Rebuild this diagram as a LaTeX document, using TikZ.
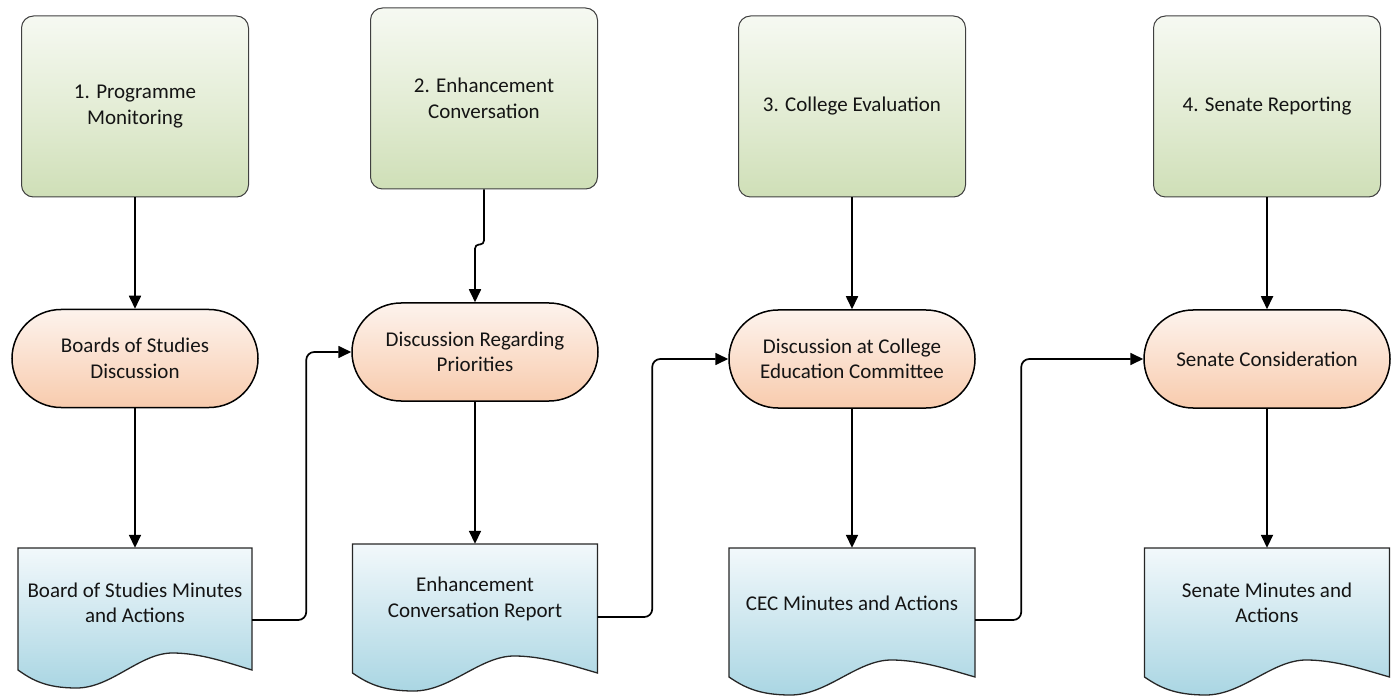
\documentclass[tikz,border=0pt]{standalone}
\usepackage{fontspec}
\setmainfont{Carlito}
\usetikzlibrary{arrows.meta,shapes.misc,calc}
\definecolor{gtop}{RGB}{246,249,242}
\definecolor{gmid}{RGB}{228,237,214}
\definecolor{gbot}{RGB}{207,223,183}
\definecolor{otop}{RGB}{253,243,237}
\definecolor{obot}{RGB}{248,203,173}
\definecolor{btop}{RGB}{242,248,251}
\definecolor{bbot}{RGB}{170,214,227}
\definecolor{txt}{RGB}{20,20,20}
\newcommand{\docbox}[6]{%
 \pgfmathsetmacro\dL{#2-#4/2}\pgfmathsetmacro\dW{#4}\pgfmathsetmacro\dB{#3+#5}%
 \path[docfill] (\dL,#3) -- ({\dL+\dW},#3) -- ({\dL+\dW},\dB)
   .. controls ({\dL+0.9*\dW},{\dB-7}) and ({\dL+0.78*\dW},{\dB-17}) .. ({\dL+0.66*\dW},{\dB-17})
   .. controls ({\dL+0.52*\dW},{\dB-17}) and ({\dL+0.40*\dW},{\dB+18}) .. ({\dL+0.25*\dW},{\dB+18})
   .. controls ({\dL+0.12*\dW},{\dB+18}) and ({\dL+0.06*\dW},{\dB+10}) .. (\dL,\dB) -- cycle;
 \node[doctext, minimum width=#4pt] (#1) at (#2,{#3+55}) {#6};
}
\begin{document}
\begin{tikzpicture}[x=1pt,y=-1pt,
  font=\fontsize{21}{25.5}\selectfont, text=txt,
  phase/.style={rectangle, rounded corners=12pt, draw=black!75, line width=1pt,
    top color=gtop, bottom color=gbot, middle color=gmid,
    minimum width=227pt, minimum height=181pt, align=center, inner sep=0pt},
  term/.style={rounded rectangle, draw=black, line width=1.5pt,
    top color=otop, bottom color=obot,
    minimum width=246pt, minimum height=98pt, align=center, inner sep=0pt},
  docfill/.style={draw=black!85, line width=1.3pt, top color=btop, bottom color=bbot},
  doctext/.style={rectangle, minimum height=110pt, align=center, inner sep=0pt},
  link/.style={draw=black, line width=1.7pt, rounded corners=8pt,
    -{Triangle[length=13pt,width=12pt]}}
]
\useasboundingbox (0,0) rectangle (1394,700);

% phases
\node[phase] (g1) at (135,106.5) {1. Programme\\Monitoring};
\node[phase] (g2) at (484,98.5) {2. Enhancement\\Conversation};
\node[phase] (g3) at (852,106.5) {3. College Evaluation};
\node[phase] (g4) at (1267,106.5) {4. Senate Reporting};

% discussions
\node[term] (t1) at (135,358.5) {Boards of Studies\\Discussion};
\node[term] (t2) at (475,352) {Discussion Regarding\\Priorities};
\node[term] (t3) at (852,359) {Discussion at College\\Education Committee};
\node[term] (t4) at (1267,359) {Senate Consideration};

% documents
\docbox{d1}{135}{548}{234}{122}{Board of Studies Minutes\\and Actions}
\docbox{d2}{475}{544}{245}{129}{Enhancement\\Conversation Report}
\docbox{d3}{852}{548}{246}{129}{CEC Minutes and Actions}
\docbox{d4}{1267}{548}{245}{129}{Senate Minutes and\\Actions}

% vertical links
\draw[link] (g1.south) -- (t1.north);
\draw[link, rounded corners=4pt] (g2.south) -- ++(0,55) -| (t2.north);
\draw[link] (g3.south) -- (t3.north);
\draw[link] (g4.south) -- (t4.north);
\draw[link] (t1.south) -- (d1.north);
\draw[link] (t2.south) -- (d2.north);
\draw[link] (t3.south) -- (d3.north);
\draw[link] (t4.south) -- (d4.north);

% cross links
\draw[link] ([yshift=-17pt]d1.east) -| ($(t2.west)+(-45,0)$) -- (t2.west);
\draw[link] ([yshift=-18pt]d2.east) -| ($(t3.west)+(-76,0)$) -- (t3.west);
\draw[link] ([yshift=-17pt]d3.east) -| ($(t4.west)+(-122,0)$) -- (t4.west);
\end{tikzpicture}
\end{document}
